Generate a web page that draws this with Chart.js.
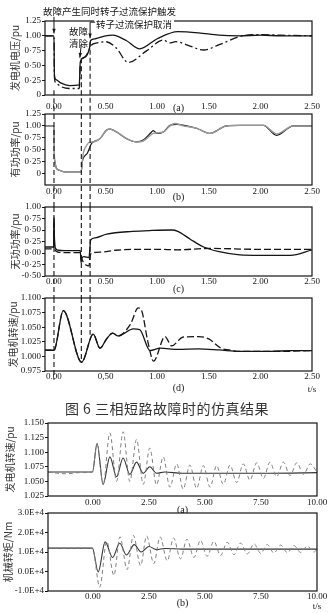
<!DOCTYPE html>
<html>
<head>
<meta charset="utf-8">
<script src="https://cdn.jsdelivr.net/npm/chart.js@4.4.0/dist/chart.umd.min.js"></script>
<style>
  body { margin: 0; background: #fff; }
  #wrap { position: relative; width: 334px; height: 613px; overflow: hidden; background: #fff; }
  canvas { position: absolute; left: 0; }
  #cap { position: absolute; left: 0; top: 398px; width: 334px; text-align: center;
         font: 14px "Noto Sans CJK SC", sans-serif; color: #333; letter-spacing: 0.5px; }
</style>
</head>
<body>
<div id="wrap">
  <canvas id="ca" width="334" height="114" style="top:0px"></canvas>
  <canvas id="cb" width="334" height="102" style="top:105px"></canvas>
  <canvas id="cc" width="334" height="100" style="top:198px"></canvas>
  <canvas id="cd" width="334" height="107" style="top:289px"></canvas>
  <canvas id="ce" width="334" height="99" style="top:414px"></canvas>
  <canvas id="cf" width="334" height="109" style="top:504px"></canvas>
  <div id="cap">图 6 三相短路故障时的仿真结果</div>
</div>
<script>
// 事件时刻 (s)
const tFault = 0, tClear = 0.265, tCancel = 0.35;

// (a) 发电机电压
const tA1 = [-0.09, 0, 0.004, 0.02, 0.07, 0.15, 0.245, 0.255, 0.3, 0.345, 0.355, 0.4, 0.5, 0.57, 0.7, 0.83, 1.0, 1.2, 1.4, 1.6, 1.8, 2.0, 2.2, 2.5];
const vA1 = [1.0, 1.0, 0.35, 0.26, 0.2, 0.16, 0.17, 0.56, 0.64, 0.8, 0.92, 0.95, 1.0, 1.01, 0.92, 0.78, 0.95, 1.07, 1.05, 1.01, 1.0, 1.01, 1.0, 1.0];
const tA2 = [-0.09, 0, 0.004, 0.02, 0.07, 0.15, 0.245, 0.255, 0.3, 0.345, 0.36, 0.42, 0.5, 0.6, 0.72, 0.9, 1.06, 1.12, 1.18, 1.3, 1.45, 1.6, 1.83, 2.0, 2.2, 2.5];
const vA2 = [1.0, 1.0, 0.3, 0.2, 0.14, 0.11, 0.11, 0.5, 0.64, 0.78, 0.84, 0.88, 0.9, 0.8, 0.55, 0.75, 0.93, 0.88, 0.9, 0.84, 0.76, 0.85, 1.0, 1.02, 1.01, 1.0];

// (b) 有功功率
const tB1 = [-0.09, 0, 0.005, 0.042, 0.122, 0.262, 0.278, 0.323, 0.349, 0.365, 0.381, 0.446, 0.51, 0.543, 0.607, 0.704, 0.8, 0.866, 0.946, 0.963, 0.995, 1.06, 1.124, 1.189, 1.286, 1.38, 1.511, 1.673, 1.8, 2.03, 2.157, 2.32, 2.5];
const vB1 = [1.0, 1.0, 0.3, 0.07, 0.02, 0.02, 0.28, 0.42, 0.56, 0.63, 0.66, 0.73, 0.91, 0.93, 0.87, 0.73, 0.66, 0.7, 0.87, 0.9, 0.84, 0.87, 1.01, 1.03, 1.0, 0.95, 0.84, 1.0, 1.01, 1.01, 0.8, 1.0, 1.0];
const tB2 = [-0.09, 0, 0.005, 0.042, 0.122, 0.262, 0.284, 0.31, 0.342, 0.381, 0.446, 0.51, 0.543, 0.607, 0.704, 0.8, 0.866, 0.963, 1.06, 1.124, 1.17, 1.253, 1.38, 1.511, 1.673, 1.8, 2.03, 2.157, 2.32, 2.5];
const vB2 = [1.0, 1.0, 0.3, 0.07, 0.02, 0.02, 0.42, 0.56, 0.65, 0.66, 0.73, 0.91, 0.93, 0.87, 0.73, 0.66, 0.68, 0.84, 0.87, 1.0, 1.05, 1.0, 0.95, 0.84, 1.0, 1.01, 1.01, 0.83, 1.0, 1.0];

// (c) 无功功率
const tC1 = [-0.09, -0.004, 0, 0.005, 0.015, 0.04, 0.1, 0.255, 0.262, 0.27, 0.29, 0.34, 0.348, 0.355, 0.4, 0.51, 0.76, 0.95, 1.14, 1.2, 1.32, 1.45, 1.6, 1.8, 2.0, 2.29, 2.5];
const vC1 = [0.13, 0.13, 0.78, 0.3, 0.1, 0.06, 0.05, 0.05, -0.21, -0.12, -0.08, -0.1, 0.1, 0.28, 0.33, 0.41, 0.47, 0.49, 0.5, 0.47, 0.3, 0.13, 0.03, -0.04, -0.05, -0.05, 0.07];
const tC2 = [-0.09, -0.004, 0, 0.005, 0.015, 0.04, 0.1, 0.255, 0.262, 0.28, 0.31, 0.34, 0.348, 0.36, 0.45, 0.6, 0.8, 1.0, 1.2, 1.5, 2.0, 2.5];
const vC2 = [0.09, 0.09, 0.75, 0.2, 0.05, 0.02, 0.01, 0.01, -0.08, -0.18, -0.26, -0.28, -0.1, -0.01, 0.02, 0.06, 0.08, 0.08, 0.07, 0.1, 0.08, 0.08];

// (d) 发电机转速
const tD1 = [-0.09, 0, 0.09, 0.268, 0.38, 0.446, 0.51, 0.568, 0.62, 0.77, 0.83, 0.93, 1.03, 1.2, 1.4, 1.6, 1.8, 2.1, 2.3, 2.5];
const vD1 = [1.0105, 1.0105, 1.0785, 0.990, 1.038, 1.014, 1.03, 1.040, 1.035, 1.047, 1.046, 1.01, 1.014, 1.012, 1.013, 1.011, 1.0085, 1.0085, 1.010, 1.010];
const tD2 = [-0.09, 0, 0.09, 0.268, 0.38, 0.446, 0.51, 0.568, 0.62, 0.74, 0.817, 0.85, 0.91, 0.965, 1.076, 1.14, 1.25, 1.4, 1.5, 1.62, 1.7, 1.77, 2.16, 2.5];
const vD2 = [1.0105, 1.0105, 1.0785, 0.990, 1.038, 1.014, 1.03, 1.040, 1.035, 1.055, 1.083, 1.078, 1.025, 0.992, 1.034, 1.018, 1.033, 1.034, 1.030, 1.014, 1.011, 1.0085, 1.0085, 1.010];

// 下图 (a) 发电机转速, 0-10 s
const tS1 = [-2, -0.02, 0.19, 0.46, 0.76, 1.06, 1.35, 1.65, 1.95, 2.25, 2.54, 2.84, 3.2, 4, 6, 8, 10];
const vS1 = [1.066, 1.066, 1.115, 1.045, 1.092, 1.058, 1.090, 1.062, 1.083, 1.064, 1.075, 1.064, 1.066, 1.064, 1.064, 1.064, 1.065];
const tS2 = [-2, -1.2, -0.6, -0.02, 0.19, 0.46, 0.76, 1.06, 1.35, 1.65, 1.95, 2.25, 2.54, 2.84, 3.14, 3.44, 3.74, 4.03, 4.33, 4.63, 4.93, 5.23, 5.52, 5.82, 6.12, 6.42, 6.71, 7.01, 7.31, 7.61, 7.9, 8.2, 8.5, 8.8, 9.1, 9.4, 9.7, 10];
const vS2 = [1.066, 1.063, 1.065, 1.066, 1.115, 1.044, 1.133, 1.05, 1.135, 1.05, 1.122, 1.045, 1.107, 1.044, 1.092, 1.040, 1.080, 1.037, 1.078, 1.038, 1.077, 1.040, 1.077, 1.045, 1.078, 1.048, 1.080, 1.052, 1.082, 1.055, 1.083, 1.058, 1.083, 1.060, 1.082, 1.062, 1.080, 1.066];

// 下图 (b) 机械转矩 (Nm)
const tT1 = [-2, -0.02, 0.24, 0.55, 0.88, 1.2, 1.5, 1.85, 2.15, 2.5, 2.85, 3.2, 4, 6, 8, 10];
const vT1 = [12000, 12000, -200, 15200, 7200, 14500, 8500, 13800, 10000, 12800, 11200, 11800, 11500, 11500, 11500, 11500];
const tT2 = [-2, -0.02, 0.31, 0.62, 0.94, 1.21, 1.53, 1.81, 2.13, 2.4, 2.72, 3.0, 3.32, 3.6, 3.91, 4.2, 4.51, 4.8, 5.1, 5.4, 5.7, 5.99, 6.3, 6.59, 6.89, 7.19, 7.49, 7.78, 8.08, 8.38, 8.68, 8.97, 9.27, 9.57, 9.87, 10];
const vT2 = [12000, 12000, -8000, 15500, -2000, 17800, 1000, 18500, 3000, 18200, 4000, 17800, 5500, 17200, 6500, 16600, 7200, 16000, 7800, 15500, 8200, 15000, 8600, 14600, 9000, 14200, 9300, 13800, 9500, 13500, 9700, 13300, 9800, 13000, 10000, 11500];

// 刻度
const xTicksTop = [0, 0.5, 1, 1.5, 2, 2.5];
const xLabelsTop = ["0.00", "0.50", "1.00", "1.50", "2.00", "2.50"];
const xLabelsD = ["0.00", "0,50", "1.00", "1.50", "2.00", "2.50"];
const xTicksBot = [0, 2.5, 5, 7.5, 10];
const xLabelsBot = ["0.00", "2.50", "5.00", "7.50", "10.00"];
const yTicksAB = [0, 0.25, 0.5, 0.75, 1.0, 1.25];
const yLabelsAB = ["0", "0·25", "0·50", "0·75", "1.00", "1.25"];
const yTicksC = [-0.5, -0.25, 0, 0.25, 0.5, 0.75, 1.0];
const yLabelsC = ["-0·50", "-0·25", "0·00", "0·25", "0·50", "0·75", "1.00"];
const yTicksD = [0.975, 1.0, 1.025, 1.05, 1.075, 1.1];
const yLabelsD = ["0.975", "1.000", "1.025", "1.050", "1.075", "1.100"];
const yTicksS = [1.025, 1.05, 1.075, 1.1, 1.125, 1.15];
const yLabelsS = ["1.025", "1.050", "1.075", "1.100", "1.125", "1.150"];
const yTicksT = [-10000, 0, 10000, 20000, 30000];
const yLabelsT = ["-1.0E+4", "0.0E+4", "1.0E+4", "2.0E+4", "3.0E+4"];

const SERIF = '"Liberation Serif", "Noto Sans CJK SC", serif';
const CJK = '"Noto Sans CJK SC", sans-serif';
const INK = '#151515';

function pts(ts, vs) {
  return ts.map((t, i) => ({ x: t, y: vs[i] }));
}

function arrow(ctx, x0, y0, x1, y1) {
  ctx.beginPath(); ctx.moveTo(x0, y0); ctx.lineTo(x1, y1); ctx.stroke();
  const a = Math.atan2(y1 - y0, x1 - x0), s = 5;
  ctx.beginPath();
  ctx.moveTo(x1, y1);
  ctx.lineTo(x1 - s * Math.cos(a - 0.35), y1 - s * Math.sin(a - 0.35));
  ctx.lineTo(x1 - s * Math.cos(a + 0.35), y1 - s * Math.sin(a + 0.35));
  ctx.closePath(); ctx.fill();
}

function makeChart(id, c) {
  const deco = {
    id: 'deco',
    afterDraw(chart) {
      const { ctx, chartArea: a, scales: { x, y } } = chart;
      ctx.save();
      // 事件虚线
      ctx.strokeStyle = INK; ctx.lineWidth = 1.1; ctx.setLineDash([5, 3]);
      (c.vlines || []).forEach(L => {
        const px = x.getPixelForValue(L.t);
        const y0 = L.from === undefined ? a.top : y.getPixelForValue(L.from);
        const y1 = L.to === undefined ? chart.height : y.getPixelForValue(L.to);
        ctx.beginPath(); ctx.moveTo(px, y0); ctx.lineTo(px, y1); ctx.stroke();
      });
      // 边框
      ctx.setLineDash([]); ctx.lineWidth = 1.2;
      ctx.strokeRect(a.left, a.top, a.right - a.left, a.bottom - a.top);
      // 子图编号
      ctx.fillStyle = INK; ctx.font = '10px ' + SERIF;
      ctx.textAlign = 'center'; ctx.textBaseline = 'middle';
      ctx.fillText(c.tag, (a.left + a.right) / 2, a.bottom + c.tagOff);
      if (c.ts) {
        ctx.font = '9px ' + SERIF;
        ctx.fillText('t/s', a.right, a.bottom + c.tsOff);
      }
      if (c.extra) c.extra(chart);
      ctx.restore();
    }
  };
  return new Chart(document.getElementById(id), {
    type: 'line',
    data: {
      datasets: c.sets.map(s => ({
        data: pts(s.t, s.v),
        borderColor: s.color,
        borderWidth: s.w || 1.3,
        borderDash: s.dash || [],
        pointRadius: 0,
        fill: false,
        cubicInterpolationMode: 'monotone'
      }))
    },
    options: {
      responsive: false,
      animation: false,
      devicePixelRatio: 1,
      events: [],
      layout: { padding: { top: c.padTop, right: c.padRight, left: 0, bottom: 0 } },
      plugins: { legend: { display: false }, tooltip: { enabled: false } },
      scales: {
        x: {
          type: 'linear', min: c.xMin, max: c.xMax,
          afterBuildTicks: s => { s.ticks = c.xTicks.map(v => ({ value: v })); },
          afterFit: s => { s.height = c.xHeight; },
          grid: { display: false, drawTicks: false },
          border: { display: false },
          ticks: {
            autoSkip: false, maxRotation: 0, padding: c.xPad, color: INK,
            font: { family: SERIF, size: 9 },
            callback: (v, i) => c.xLabels[i]
          }
        },
        y: {
          min: c.yMin, max: c.yMax,
          afterBuildTicks: s => { s.ticks = c.yTicks.map(v => ({ value: v })); },
          afterFit: s => { s.width = c.yWidth; },
          grid: { display: true, drawOnChartArea: false, drawTicks: true, tickLength: 3, color: INK },
          border: { display: false },
          ticks: {
            autoSkip: false, padding: 1, color: INK,
            font: { family: SERIF, size: c.yFont || 9 },
            callback: (v, i) => c.yLabels[i]
          },
          title: {
            display: true, text: c.yTitle, color: '#333',
            font: { family: CJK, size: 10 },
            padding: { top: c.titlePad, bottom: 0 }
          }
        }
      }
    },
    plugins: [deco]
  });
}

const topCommon = { xMin: -0.087, xMax: 2.5, xTicks: xTicksTop, yWidth: 45, padRight: 22, titlePad: 9 };
const allLines = [{ t: tFault }, { t: tClear }, { t: tCancel }];

makeChart('ca', Object.assign({}, topCommon, {
  padTop: 21, xHeight: 19, xPad: 6, xLabels: xLabelsTop,
  yMin: 0, yMax: 1.25, yTicks: yTicksAB, yLabels: yLabelsAB, yTitle: '发电机电压/pu',
  tag: '(a)', tagOff: 13,
  sets: [
    { t: tA2, v: vA2, color: INK, dash: [8, 3, 2, 3] },
    { t: tA1, v: vA1, color: INK }
  ],
  vlines: [{ t: tFault, from: 0.08 }, { t: tClear, from: 0.62 }, { t: tCancel, from: 0.9 }],
  extra(chart) {
    const { ctx, scales: { x, y } } = chart;
    const xf = x.getPixelForValue(tFault), xc = x.getPixelForValue(tClear), xk = x.getPixelForValue(tCancel);
    ctx.fillStyle = INK; ctx.strokeStyle = INK; ctx.lineWidth = 1; ctx.setLineDash([]);
    ctx.font = '9.5px ' + CJK; ctx.textAlign = 'left'; ctx.textBaseline = 'middle';
    ctx.fillText('故障产生同时转子过流保护触发', 43, 11);
    arrow(ctx, xf, y.getPixelForValue(1.32), xf, y.getPixelForValue(1.04));
    ctx.fillText('故障', 69, 31);
    ctx.fillText('清除', 69, 43);
    arrow(ctx, xc, y.getPixelForValue(0.86), xc - 1.5, y.getPixelForValue(0.63));
    const yk = y.getPixelForValue(1.23);
    ctx.fillStyle = '#fff'; ctx.fillRect(xk + 4, yk - 6, 80, 13);
    ctx.fillStyle = INK;
    ctx.beginPath(); ctx.moveTo(xk, yk); ctx.lineTo(xk + 5, yk); ctx.stroke();
    arrow(ctx, xk, yk, xk, y.getPixelForValue(0.96));
    ctx.fillText('转子过流保护取消', xk + 6, yk + 2);
  }
}));

makeChart('cb', Object.assign({}, topCommon, {
  padTop: 9, xHeight: 22, xPad: 1, xLabels: xLabelsTop,
  yMin: -0.25, yMax: 1.25, yTicks: yTicksAB, yLabels: yLabelsAB, yTitle: '有功功率/pu',
  tag: '(b)', tagOff: 12,
  sets: [
    { t: tB2, v: vB2, color: '#9a9a9a', w: 1.4 },
    { t: tB1, v: vB1, color: INK, w: 1.2 }
  ],
  vlines: allLines
}));

makeChart('cc', Object.assign({}, topCommon, {
  padTop: 9, xHeight: 22, xPad: 0, xLabels: xLabelsTop,
  yMin: -0.5, yMax: 1.0, yTicks: yTicksC, yLabels: yLabelsC, yTitle: '无功功率/pu',
  tag: '(c)', tagOff: 13,
  sets: [
    { t: tC2, v: vC2, color: INK, dash: [7, 3] },
    { t: tC1, v: vC1, color: INK }
  ],
  vlines: allLines
}));

makeChart('cd', Object.assign({}, topCommon, {
  padTop: 9, xHeight: 25, xPad: 0, xLabels: xLabelsD, titlePad: 7,
  yMin: 0.975, yMax: 1.1, yTicks: yTicksD, yLabels: yLabelsD, yTitle: '发电机转速/pu',
  tag: '(d)', tagOff: 17, ts: true, tsOff: 19,
  sets: [
    { t: tD2, v: vD2, color: INK, dash: [7, 3] },
    { t: tD1, v: vD1, color: INK }
  ],
  vlines: [{ t: tFault, to: 0.96 }, { t: tClear, to: 0.99 }, { t: tCancel, to: 1.037 }]
}));

const botCommon = { xMin: -2, xMax: 10, xTicks: xTicksBot, xLabels: xLabelsBot, yWidth: 48, padRight: 17, titlePad: 4 };

makeChart('ce', Object.assign({}, botCommon, {
  padTop: 9, xHeight: 17, xPad: 1,
  yMin: 1.025, yMax: 1.15, yTicks: yTicksS, yLabels: yLabelsS, yTitle: '发电机转速/pu',
  tag: '(a)', tagOff: 14,
  sets: [
    { t: tS2, v: vS2, color: '#808080', w: 1, dash: [4, 3] },
    { t: tS1, v: vS1, color: '#333', w: 1.1 }
  ]
}));

makeChart('cf', Object.assign({}, botCommon, {
  padTop: 9, xHeight: 22, xPad: 0, titlePad: 2,
  yMin: -10000, yMax: 30000, yTicks: yTicksT, yLabels: yLabelsT, yTitle: '机械转矩/Nm',
  tag: '(b)', tagOff: 12, ts: true, tsOff: 16,
  sets: [
    { t: tT2, v: vT2, color: '#808080', w: 1, dash: [4, 3] },
    { t: tT1, v: vT1, color: '#333', w: 1.1 }
  ]
}));
</script>
</body>
</html>
